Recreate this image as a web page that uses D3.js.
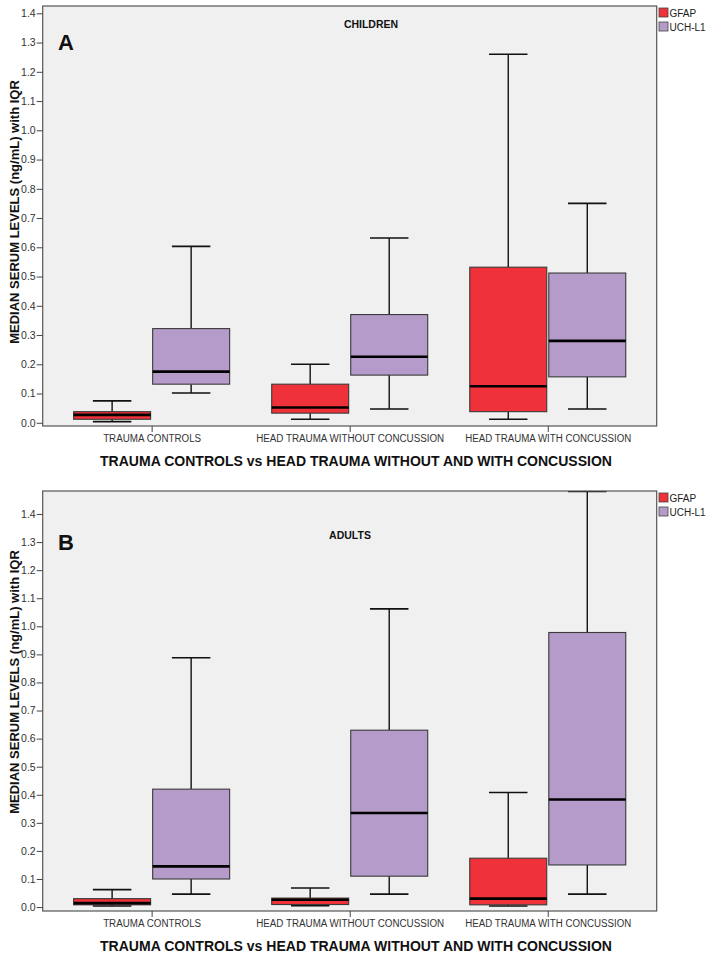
<!DOCTYPE html>
<html>
<head>
<meta charset="utf-8">
<script src="https://cdn.jsdelivr.net/npm/d3@7"></script>
<style>
  html, body { margin: 0; padding: 0; background: #fff; }
  svg { display: block; font-family: Arial, "Liberation Sans", sans-serif; }
</style>
</head>
<body>
<svg id="chart" width="708" height="954"></svg>
<script>
// ---------- data ----------
const categories = ["TRAUMA CONTROLS", "HEAD TRAUMA WITHOUT CONCUSSION", "HEAD TRAUMA WITH CONCUSSION"];
const series = ["GFAP", "UCH-L1"];
const seriesColors = ["#ef3139", "#b49bca"];
const yTickValues = [0, 0.1, 0.2, 0.3, 0.4, 0.5, 0.6, 0.7, 0.8, 0.9, 1.0, 1.1, 1.2, 1.3, 1.4];

// each box: [lower whisker, Q1, median, Q3, upper whisker] per category
const childrenGFAP = [[0.004, 0.012, 0.027, 0.038, 0.075], [0.012, 0.033, 0.052, 0.132, 0.200], [0.012, 0.038, 0.125, 0.532, 1.260]];
const childrenUCHL1 = [[0.102, 0.132, 0.175, 0.322, 0.603], [0.047, 0.163, 0.226, 0.370, 0.632], [0.047, 0.157, 0.280, 0.512, 0.750]];
const adultsGFAP = [[0.004, 0.008, 0.014, 0.030, 0.062], [0.005, 0.009, 0.026, 0.032, 0.068], [0.004, 0.008, 0.030, 0.174, 0.408]];
const adultsUCHL1 = [[0.046, 0.100, 0.145, 0.420, 0.888], [0.046, 0.110, 0.335, 0.630, 1.062], [0.046, 0.150, 0.383, 0.978, 1.480]];

const panels = [
  { letter: "A", title: "CHILDREN", top: 6, yMin: -0.011, yMax: 1.425, data: [childrenGFAP, childrenUCHL1],
    letterY: 50, titleX: 371, titleY: 28, yTitleY: 212 },
  { letter: "B", title: "ADULTS", top: 491, yMin: -0.014, yMax: 1.482, data: [adultsGFAP, adultsUCHL1],
    letterY: 550, titleX: 350, titleY: 539, yTitleY: 682 }
];

// ---------- layout ----------
const left = 42.7, right = 656.7, plotH = 420;
const svg = d3.select("#chart");

const x = d3.scalePoint().domain(categories).range([left, right]).padding(0.55);
const sub = d3.scaleBand().domain(series).range([-78, 78]).paddingInner(0.026);

panels.forEach(p => {
  const g = svg.append("g");
  const y = d3.scaleLinear().domain([p.yMin, p.yMax]).range([p.top + plotH, p.top]);

  // plot background
  g.append("rect").attr("x", left).attr("y", p.top).attr("width", right - left).attr("height", plotH)
    .attr("fill", "#f0f0f0");

  // clip for marks
  const clipId = "clip" + p.letter;
  svg.append("clipPath").attr("id", clipId).append("rect")
    .attr("x", left).attr("y", p.top).attr("width", right - left).attr("height", plotH);

  const marks = g.append("g").attr("clip-path", `url(#${clipId})`);

  series.forEach((s, si) => {
    const bw = sub.bandwidth();
    p.data[si].forEach((b, ci) => {
      const [lo, q1, med, q3, hi] = b;
      const x0 = x(categories[ci]) + sub(s);
      const cx = x0 + bw / 2;
      const capW = bw / 2;
      const bg = marks.append("g");
      // whiskers
      bg.append("line").attr("x1", cx).attr("x2", cx).attr("y1", y(q3)).attr("y2", y(hi))
        .attr("stroke", "#111").attr("stroke-width", 1.4);
      bg.append("line").attr("x1", cx).attr("x2", cx).attr("y1", y(q1)).attr("y2", y(lo))
        .attr("stroke", "#111").attr("stroke-width", 1.4);
      bg.append("line").attr("x1", cx - capW / 2).attr("x2", cx + capW / 2).attr("y1", y(hi)).attr("y2", y(hi))
        .attr("stroke", "#111").attr("stroke-width", 1.6);
      bg.append("line").attr("x1", cx - capW / 2).attr("x2", cx + capW / 2).attr("y1", y(lo)).attr("y2", y(lo))
        .attr("stroke", "#111").attr("stroke-width", 1.6);
      // box
      bg.append("rect").attr("x", x0).attr("y", y(q3)).attr("width", bw).attr("height", Math.max(0.5, y(q1) - y(q3)))
        .attr("fill", seriesColors[si]).attr("stroke", "#3a3a3a").attr("stroke-width", 1.1);
      // median
      bg.append("line").attr("x1", x0).attr("x2", x0 + bw).attr("y1", y(med)).attr("y2", y(med))
        .attr("stroke", "#000").attr("stroke-width", 2.6);
    });
  });

  // border
  g.append("rect").attr("x", left).attr("y", p.top).attr("width", right - left).attr("height", plotH)
    .attr("fill", "none").attr("stroke", "#555").attr("stroke-width", 1.2);

  // y axis
  const yAxis = d3.axisLeft(y).tickValues(yTickValues).tickFormat(d3.format(".1f")).tickSize(6).tickSizeOuter(0);
  const ya = g.append("g").attr("transform", `translate(${left},0)`).call(yAxis);
  ya.select(".domain").remove();
  ya.selectAll(".tick line").attr("stroke", "#444");
  ya.selectAll(".tick text").attr("fill", "#333").attr("font-size", 10.5).attr("x", -7)
    .style("font-family", "Arial, 'Liberation Sans', sans-serif");

  // x axis
  const xAxis = d3.axisBottom(x).tickSize(6).tickSizeOuter(0);
  const xa = g.append("g").attr("transform", `translate(0,${p.top + plotH})`).call(xAxis);
  xa.select(".domain").remove();
  xa.selectAll(".tick line").attr("stroke", "#444");
  xa.selectAll(".tick text").attr("fill", "#333").attr("font-size", 10).attr("y", 9)
    .attr("textLength", d => d === categories[0] ? 98 : (d === categories[1] ? 188 : 166))
    .attr("lengthAdjust", "spacingAndGlyphs")
    .style("font-family", "Arial, 'Liberation Sans', sans-serif");

  // x title
  g.append("text").attr("x", 356).attr("y", p.top + 460).attr("text-anchor", "middle")
    .attr("font-size", 14).attr("font-weight", "bold").attr("fill", "#111")
    .attr("textLength", 512).attr("lengthAdjust", "spacingAndGlyphs")
    .text("TRAUMA CONTROLS vs HEAD TRAUMA WITHOUT AND WITH CONCUSSION");

  // y title
  g.append("text").attr("transform", `translate(19,${p.yTitleY}) rotate(-90)`).attr("text-anchor", "middle")
    .attr("font-size", 13).attr("font-weight", "bold").attr("fill", "#111")
    .text("MEDIAN SERUM LEVELS (ng/mL) with IQR");

  // panel letter
  g.append("text").attr("x", 58).attr("y", p.letterY).attr("font-size", 22).attr("font-weight", "bold")
    .attr("fill", "#111").text(p.letter);

  // panel title
  g.append("text").attr("x", p.titleX).attr("y", p.titleY).attr("text-anchor", "middle")
    .attr("font-size", 10.5).attr("font-weight", "bold").attr("fill", "#111").text(p.title);

  // legend
  const lg = g.append("g").attr("transform", `translate(659,${p.top + 2})`);
  series.forEach((s, i) => {
    lg.append("rect").attr("x", 0).attr("y", i * 14).attr("width", 9).attr("height", 9)
      .attr("fill", seriesColors[i]).attr("stroke", "#444").attr("stroke-width", 0.8);
    lg.append("text").attr("x", 10.5).attr("y", i * 14 + 8.5).attr("font-size", 10).attr("fill", "#222").text(s);
  });
});
</script>
</body>
</html>
